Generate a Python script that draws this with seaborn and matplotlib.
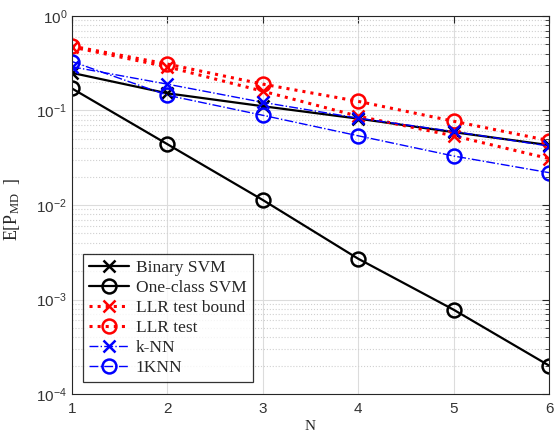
import numpy as np
import pandas as pd
import matplotlib
matplotlib.use("Agg")
import matplotlib.pyplot as plt
import matplotlib.ticker as mticker
import seaborn as sns

N = [1, 2, 3, 4, 5, 6]
binary_svm = [0.25, 0.152, 0.111, 0.082, 0.059, 0.043]
oneclass_svm = [0.171, 0.044, 0.0113, 0.0027, 0.00078, 0.0002]
llr_bound = [0.47, 0.29, 0.16, 0.087, 0.054, 0.031]
llr_test = [0.48, 0.31, 0.19, 0.125, 0.077, 0.048]
knn = [0.29, 0.19, 0.122, 0.083, 0.060, 0.042]
oneknn = [0.33, 0.145, 0.089, 0.054, 0.033, 0.022]

labels = ["Binary SVM", "One-class SVM", "LLR test bound", "LLR test", "k-NN", "1KNN"]
series = [binary_svm, oneclass_svm, llr_bound, llr_test, knn, oneknn]
colors = ["black", "black", "red", "red", "blue", "blue"]
styles = ["-", "-", ":", ":", "-.", "-."]
markers = ["x", "o", "x", "o", "x", "o"]
widths = [1.6, 1.6, 2.2, 2.2, 1.0, 1.0]

sns.set_style("white")
plt.rcParams["font.family"] = ["Liberation Sans", "DejaVu Sans"]
plt.rcParams["mathtext.fontset"] = "custom"
plt.rcParams["mathtext.rm"] = "Liberation Sans"
plt.rcParams["mathtext.it"] = "Liberation Sans:italic"
plt.rcParams["mathtext.default"] = "regular"

fig = plt.figure(figsize=(5.55, 4.36), dpi=100)
ax = fig.add_axes([72 / 555, (436 - 394) / 436, 477 / 555, 378 / 436])

for lab, vals, c, ls, m, lw in zip(labels, series, colors, styles, markers, widths):
    df = pd.DataFrame({"N": N, "v": vals})
    sns.lineplot(data=df, x="N", y="v", ax=ax, color=c, linestyle=ls, linewidth=lw,
                 marker=m, markersize=10 if m == "o" else 8, markerfacecolor="none",
                 markeredgecolor=c, markeredgewidth=1.8, label=lab)

ax.set_yscale("log")
ax.set_xlim(1, 6)
ax.set_ylim(1e-4, 1)
ax.set_xticks(N)
ax.yaxis.set_major_locator(mticker.LogLocator(base=10, numticks=10))
ax.yaxis.set_minor_locator(mticker.LogLocator(base=10, subs=np.arange(2, 10), numticks=20))
ax.yaxis.set_major_formatter(mticker.LogFormatterMathtext())
ax.yaxis.set_minor_formatter(mticker.NullFormatter())

ax.grid(True, which="major", color="#dcdcdc", linestyle="-", linewidth=0.8)
ax.grid(True, which="minor", axis="y", color="#d0d0d0", linestyle=":", linewidth=0.8)
ax.set_axisbelow(True)

for sp in ax.spines.values():
    sp.set_color("#262626")
    sp.set_linewidth(0.8)
ax.tick_params(which="both", direction="in", top=True, right=True, colors="#262626",
               labelsize=11, labelcolor="#333333")
ax.tick_params(which="major", length=5)
ax.tick_params(which="minor", length=3)
ax.tick_params(axis="x", pad=6)

serif = ["Liberation Serif", "DejaVu Serif"]
ax.set_xlabel("N", family=serif, fontsize=11, color="#262626")
ax.set_ylabel(r"E[P$_{MD}$  ]", family=serif, fontsize=13, color="#262626")
ax.xaxis.set_label_coords(0.5, -0.07)
ax.yaxis.set_label_coords(-0.105, 0.49)

leg = ax.legend(loc="lower left", bbox_to_anchor=(11 / 477, 12 / 378), frameon=True, fancybox=False,
                prop={"family": serif, "size": 12.5}, handlelength=2.3, borderpad=0.35,
                labelspacing=0.22, handletextpad=0.4, borderaxespad=0)
leg.get_frame().set_edgecolor("black")
leg.get_frame().set_linewidth(0.9)

fig.savefig("out.png", dpi=100)
